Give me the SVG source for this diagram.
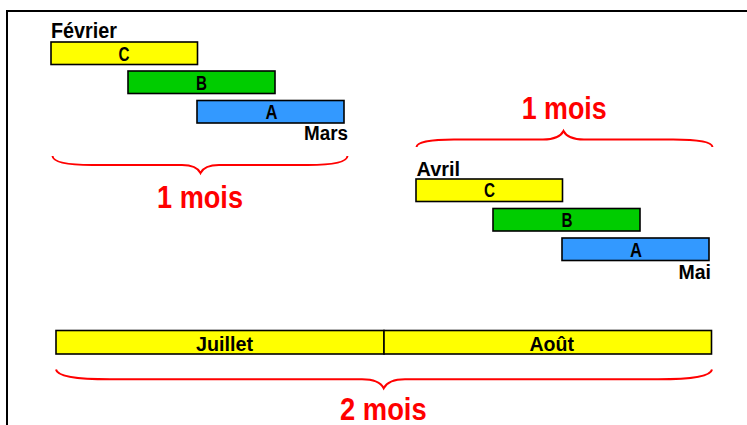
<svg xmlns="http://www.w3.org/2000/svg" width="747" height="425" viewBox="0 0 747 425">
<style>
.t{font-family:"Liberation Sans",Arial,sans-serif;font-weight:bold;fill:#000}
.r{font-family:"Liberation Sans",Arial,sans-serif;font-weight:bold;fill:#ff0000}
.l{font-size:20px;text-anchor:middle}
.box{stroke:#000;stroke-width:1.6}
.y{fill:#ffff00}.g{fill:#00cc00}.b{fill:#3399ff}
.brace{fill:none;stroke:#ff0000;stroke-width:2}
</style>
<rect width="747" height="425" fill="#fff"/>
<path d="M7,425 V11 H747" fill="none" stroke="#000" stroke-width="2"/>

<g id="group1">
  <text class="t" x="51" y="38.3" font-size="21.5" textLength="66" lengthAdjust="spacingAndGlyphs">Février</text>
  <g id="C1"><rect class="box y" x="51" y="42" width="146.5" height="22.5"/><text class="t l" x="124" y="60.5" textLength="11" lengthAdjust="spacingAndGlyphs">C</text></g>
  <g id="B1"><rect class="box g" x="128" y="71" width="147" height="22.5"/><text class="t l" x="201.5" y="89.5" textLength="11" lengthAdjust="spacingAndGlyphs">B</text></g>
  <g id="A1"><rect class="box b" x="197" y="100.5" width="147" height="22.5"/><text class="t l" x="271.5" y="119.3" textLength="12" lengthAdjust="spacingAndGlyphs">A</text></g>
  <text class="t" x="304" y="140.3" font-size="20" textLength="44" lengthAdjust="spacingAndGlyphs">Mars</text>
</g>

<g id="group2">
  <text class="t" x="416.5" y="176" font-size="20.5" textLength="43.5" lengthAdjust="spacingAndGlyphs">Avril</text>
  <g id="C2"><rect class="box y" x="416" y="179" width="146.5" height="22.5"/><text class="t l" x="489.5" y="197" textLength="11" lengthAdjust="spacingAndGlyphs">C</text></g>
  <g id="B2"><rect class="box g" x="493" y="208.5" width="147" height="22.5"/><text class="t l" x="567" y="227" textLength="11" lengthAdjust="spacingAndGlyphs">B</text></g>
  <g id="A2"><rect class="box b" x="562" y="238" width="147" height="22.5"/><text class="t l" x="636" y="257" textLength="12" lengthAdjust="spacingAndGlyphs">A</text></g>
  <text class="t" x="678.5" y="279.3" font-size="20" textLength="32.5" lengthAdjust="spacingAndGlyphs">Mai</text>
</g>

<g id="months">
  <g id="juillet"><rect class="box y" x="56" y="330.5" width="328" height="23.5"/><text class="t" x="196" y="351" font-size="21" textLength="57" lengthAdjust="spacingAndGlyphs">Juillet</text></g>
  <g id="aout"><rect class="box y" x="384" y="330.5" width="327.5" height="23.5"/><text class="t" x="529.5" y="351" font-size="21" textLength="44.5" lengthAdjust="spacingAndGlyphs">Août</text></g>
</g>

<g id="connectors">
  <path class="brace" d="M52.5,156 C53,162 68,165 92,165 L182,165 C193,165 198,168 200.5,173 C203,168 208,165 219,165 L308,165 C332,165 347,162 347.5,156"/>
  <path class="brace" d="M416.5,147 C417,142 432,139.5 454,139.5 L543,139.5 C555,139.5 561,136 563.5,131 C566,136 572,139.5 584,139.5 L673,139.5 C697,139.5 712,142 712.5,147"/>
  <path class="brace" d="M56,369.5 C57,376 75,379.3 110,379.3 L362,379.3 C374,379.3 381,383 383.7,388.3 C386.5,383 393,379.3 405,379.3 L658,379.3 C693,379.3 711,376 712,369.5"/>
</g>

<g id="labels">
  <text class="r" x="157" y="208" font-size="31.5" textLength="86" lengthAdjust="spacingAndGlyphs">1 mois</text>
  <text class="r" x="521.7" y="119" font-size="31.5" textLength="85" lengthAdjust="spacingAndGlyphs">1 mois</text>
  <text class="r" x="340" y="419.5" font-size="31" textLength="86.7" lengthAdjust="spacingAndGlyphs">2 mois</text>
</g>
</svg>
